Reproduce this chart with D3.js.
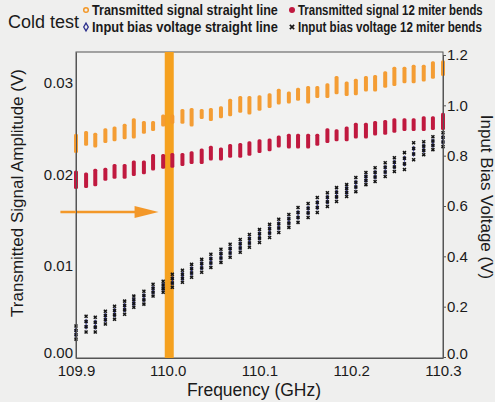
<!doctype html>
<html lang="en">
<head>
<meta charset="utf-8">
<style>
body, html {
  margin: 0;
  padding: 0;
  background: #efefee;
  overflow: hidden;
}
svg text {
  font-family: "Liberation Sans", Arial, sans-serif;
  fill: #1a1a1a;
}
</style>
</head>
<body>
<svg id="chart" width="495" height="402"></svg>
<script src="https://d3js.org/d3.v7.min.js"></script>
<script>

// frequency of each measured column (GHz)
const freqs = [109.900, 109.911, 109.921, 109.932, 109.942, 109.953, 109.963, 109.974, 109.984, 109.995,
  110.005, 110.016, 110.026, 110.037, 110.047, 110.058, 110.068, 110.079, 110.089, 110.100,
  110.111, 110.121, 110.132, 110.142, 110.153, 110.163, 110.174, 110.184, 110.195, 110.205,
  110.216, 110.226, 110.237, 110.247, 110.258, 110.268, 110.279, 110.289, 110.300];

// transmitted signal, straight line (V) - spread of each column
const sigStraightHi = [0.0244, 0.0247, 0.0245, 0.0250, 0.0252, 0.0255, 0.0261, 0.0258, 0.0258, 0.0265,
  0.0265, 0.0271, 0.0272, 0.0271, 0.0272, 0.0274, 0.0282, 0.0285, 0.0285, 0.0286,
  0.0288, 0.0293, 0.0290, 0.0294, 0.0296, 0.0296, 0.0299, 0.0307, 0.0301, 0.0304,
  0.0307, 0.0308, 0.0312, 0.0317, 0.0317, 0.0319, 0.0319, 0.0323, 0.0324];
const sigStraightLo = [0.0223, 0.0231, 0.0229, 0.0234, 0.0236, 0.0238, 0.0239, 0.0244, 0.0247, 0.0252,
  0.0255, 0.0255, 0.0252, 0.0260, 0.0258, 0.0261, 0.0263, 0.0267, 0.0265, 0.0269,
  0.0272, 0.0276, 0.0277, 0.0280, 0.0277, 0.0283, 0.0283, 0.0287, 0.0285, 0.0286,
  0.0290, 0.0290, 0.0294, 0.0296, 0.0299, 0.0299, 0.0301, 0.0304, 0.0307];

// transmitted signal, 12 miter bends (V)
const sigMiterHi = [0.0204, 0.0202, 0.0206, 0.0207, 0.0211, 0.0211, 0.0215, 0.0215, 0.0222, 0.0222,
  0.0223, 0.0223, 0.0225, 0.0228, 0.0231, 0.0229, 0.0233, 0.0234, 0.0236, 0.0238,
  0.0239, 0.0242, 0.0244, 0.0244, 0.0244, 0.0244, 0.0250, 0.0249, 0.0252, 0.0256,
  0.0256, 0.0258, 0.0259, 0.0261, 0.0261, 0.0261, 0.0263, 0.0263, 0.0267];
const sigMiterLo = [0.0184, 0.0185, 0.0187, 0.0193, 0.0195, 0.0195, 0.0198, 0.0200, 0.0204, 0.0206,
  0.0207, 0.0209, 0.0211, 0.0211, 0.0215, 0.0215, 0.0218, 0.0218, 0.0220, 0.0223,
  0.0225, 0.0229, 0.0228, 0.0228, 0.0228, 0.0231, 0.0234, 0.0236, 0.0236, 0.0239,
  0.0239, 0.0242, 0.0243, 0.0245, 0.0247, 0.0247, 0.0247, 0.0248, 0.0248];

// input bias voltage (V), right axis
const biasHi = [0.123, 0.162, 0.158, 0.182, 0.202, 0.222, 0.242, 0.261, 0.289, 0.301,
  0.329, 0.345, 0.368, 0.388, 0.408, 0.428, 0.448, 0.467, 0.487, 0.507,
  0.527, 0.547, 0.566, 0.594, 0.610, 0.634, 0.653, 0.673, 0.685, 0.713,
  0.733, 0.752, 0.772, 0.792, 0.812, 0.851, 0.855, 0.875, 0.891];
const biasLo = [0.071, 0.099, 0.099, 0.131, 0.150, 0.170, 0.198, 0.210, 0.242, 0.257,
  0.277, 0.297, 0.317, 0.337, 0.356, 0.376, 0.396, 0.416, 0.436, 0.455,
  0.475, 0.495, 0.515, 0.535, 0.554, 0.574, 0.598, 0.618, 0.638, 0.657,
  0.685, 0.697, 0.717, 0.737, 0.745, 0.784, 0.804, 0.824, 0.836];

const xTicks = [109.9, 110.0, 110.1, 110.2, 110.3];
const leftTicks = [0, 0.01, 0.02, 0.03];
const rightTicks = [0, 0.2, 0.4, 0.6, 0.8, 1.0, 1.2];
const markerFreq = 110.0;
const arrow = {from: 109.883, to: 109.99, value: 0.0159};

const legendItems = [
  {label: "Transmitted signal straight line", kind: "ring", len: 186},
  {label: "Transmitted signal 12 miter bends", kind: "dot", len: 185},
  {label: "Input bias voltage straight line", kind: "diamond", len: 186},
  {label: "Input bias voltage 12 miter bends", kind: "cross", len: 184}
];

const orange = "#f39829";
const red = "#c0193f";
const band = "#f5a11f";

const plotL = 76, plotR = 443, plotT = 52, plotB = 358;

const svg = d3.select("#chart");

const x = d3.scaleLinear().domain([109.9, 110.3]).range([plotL, plotR]);
const yL = d3.scaleLinear().domain([0, 0.0333]).range([plotB, plotT]);
const yR = d3.scaleLinear().domain([0, 1.2]).range([plotB - 1, 55]);

// plot frame
svg.append("rect")
  .attr("x", plotL).attr("y", plotT)
  .attr("width", plotR - plotL).attr("height", plotB - plotT)
  .attr("fill", "#f2f2f1")
  .attr("stroke", "#555").attr("stroke-width", 1);

// vertical marker at 110.0 GHz
svg.append("rect")
  .attr("x", x(markerFreq) - 3)
  .attr("y", plotT)
  .attr("width", 9)
  .attr("height", plotB - plotT)
  .attr("fill", band);

// arrow
svg.append("line")
  .attr("x1", x(arrow.from)).attr("x2", x(arrow.to) - 20)
  .attr("y1", yL(arrow.value)).attr("y2", yL(arrow.value))
  .attr("stroke", orange).attr("stroke-width", 2.5);
svg.append("path")
  .attr("d", `M${x(arrow.to)},${yL(arrow.value)} L${x(arrow.to) - 24},${yL(arrow.value) - 6} L${x(arrow.to) - 24},${yL(arrow.value) + 6} Z`)
  .attr("fill", orange);

// transmitted signal bars
const sig = freqs.map((f, i) => ({f, sHi: sigStraightHi[i], sLo: sigStraightLo[i], mHi: sigMiterHi[i], mLo: sigMiterLo[i]}));

svg.append("g").selectAll("rect").data(sig).enter().append("rect")
  .attr("x", (d) => x(d.f) - 2)
  .attr("y", (d) => yL(d.sHi))
  .attr("width", 4)
  .attr("height", (d) => yL(d.sLo) - yL(d.sHi))
  .attr("rx", 1.5)
  .attr("fill", orange)
  .attr("opacity", 0.95);

svg.append("g").selectAll("rect").data(sig).enter().append("rect")
  .attr("x", (d) => x(d.f) - 2)
  .attr("y", (d) => yL(d.mHi))
  .attr("width", 4)
  .attr("height", (d) => yL(d.mLo) - yL(d.mHi))
  .attr("rx", 1.5)
  .attr("fill", red);

// input bias voltage markers: each column holds a stack of repeated readings
const bias = [];
freqs.forEach((f, i) => {
  const hi = yR(biasHi[i]), lo = yR(biasLo[i]);
  for (let k = 0; k < 4; k++) {
    bias.push({f, y: lo + (hi - lo) * k / 3, mid: k === 1 || k === 2});
  }
});

svg.append("g").selectAll("path").data(bias.filter((d) => d.mid)).enter().append("path")
  .attr("d", d3.symbol(d3.symbolDiamond, 10))
  .attr("transform", (d) => `translate(${x(d.f)},${d.y})`)
  .attr("fill", "#2c2f8c");

svg.append("g").selectAll("path").data(bias).enter().append("path")
  .attr("d", d3.symbol(d3.symbolX, 7))
  .attr("transform", (d) => `translate(${x(d.f)},${d.y})`)
  .attr("fill", "none")
  .attr("stroke", "#151515")
  .attr("stroke-width", 1.5);

// axes
const styleAxis = (g) => {
  g.select(".domain").attr("stroke", "#555");
  g.selectAll("text").attr("font-size", 15).attr("font-family", "Liberation Sans, Arial, sans-serif").attr("fill", "#1a1a1a");
  g.selectAll(".tick line").attr("stroke", "#555");
};

svg.append("g")
  .attr("transform", `translate(0,${plotB})`)
  .call(d3.axisBottom(x).tickValues(xTicks).tickFormat(d3.format(".1f")).tickSize(0).tickPadding(7))
  .call(styleAxis);

const leftAxis = svg.append("g")
  .attr("transform", `translate(${plotL},0)`)
  .call(d3.axisLeft(yL).tickValues(leftTicks).tickFormat(d3.format(".2f")).tickSize(0).tickPadding(3))
  .call(styleAxis);
// lowest label sits a little above the corner
leftAxis.selectAll(".tick text").filter((d) => d === 0).attr("y", -5);

const rightAxis = svg.append("g")
  .attr("transform", `translate(${plotR},0)`)
  .call(d3.axisRight(yR).tickValues(rightTicks).tickFormat(d3.format(".1f")).tickSize(3).tickPadding(1))
  .call(styleAxis);
rightAxis.selectAll(".tick text").filter((d) => d === 0).attr("y", -3);

// axis titles
svg.append("text")
  .attr("x", 254).attr("y", 396)
  .attr("text-anchor", "middle")
  .attr("font-size", 17.5)
  .text("Frequency (GHz)");

svg.append("text")
  .attr("transform", "translate(23,193) rotate(-90)")
  .attr("text-anchor", "middle")
  .attr("font-size", 17)
  .text("Transmitted Signal Amplitude (V)");

svg.append("text")
  .attr("transform", "translate(481,197) rotate(90)")
  .attr("text-anchor", "middle")
  .attr("font-size", 17)
  .text("Input Bias Voltage (V)");

// title + legend
svg.append("text")
  .attr("x", 8).attr("y", 28)
  .attr("font-size", 18)
  .text("Cold test");

const legend = svg.append("g").selectAll("g").data(legendItems).enter().append("g")
  .attr("transform", (d, i) => `translate(${i % 2 === 0 ? 86 : 292},${i < 2 ? 10 : 27})`);

// condensed look: squeeze each label horizontally to the width seen in the picture
legend.append("text")
  .attr("font-size", 14)
  .attr("font-weight", "bold")
  .attr("fill", "#1e1e1e")
  .text((d) => d.label)
  .attr("transform", function (d) {
    const w = this.getComputedTextLength();
    return `translate(6,5) scale(${d.len / w},1)`;
  });

legend.filter((d) => d.kind === "ring").append("circle")
  .attr("r", 2.3).attr("fill", "none").attr("stroke", orange).attr("stroke-width", 1.5);
legend.filter((d) => d.kind === "dot").append("circle")
  .attr("r", 3).attr("fill", red);
legend.filter((d) => d.kind === "diamond").append("path")
  .attr("d", d3.symbol(d3.symbolDiamond, 18))
  .attr("fill", "none").attr("stroke", "#2c2f8c").attr("stroke-width", 1.3);
legend.filter((d) => d.kind === "cross").append("path")
  .attr("d", d3.symbol(d3.symbolX, 14))
  .attr("fill", "none").attr("stroke", "#151515").attr("stroke-width", 1.6);

</script>
</body>
</html>
